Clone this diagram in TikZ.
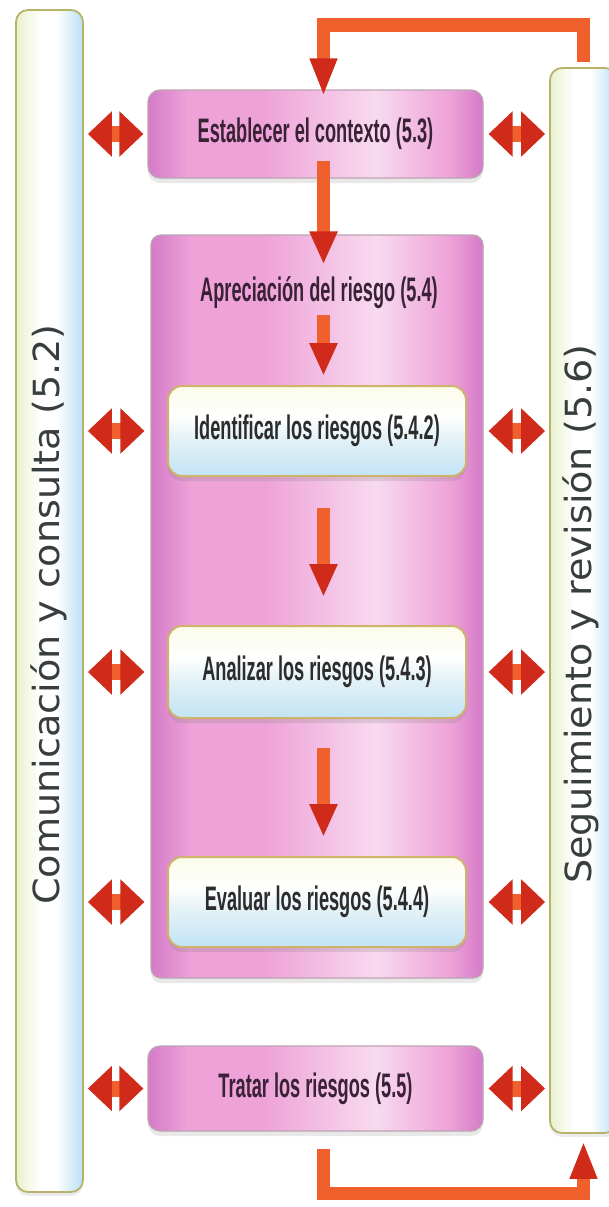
\documentclass[tikz,border=0pt]{standalone}
\usepackage{fontspec}
\setmainfont{Liberation Sans}
\newfontfamily\sidefont{DejaVu Sans}
\usepackage{graphicx}
\usetikzlibrary{arrows.meta,shadows,calc}

% palette
\definecolor{pkEdge}{HTML}{D47BC8}
\definecolor{pkMid}{HTML}{EEA2D8}
\definecolor{pkLight}{HTML}{F8DAEF}
\definecolor{pbTop}{HTML}{FBFCEA}
\definecolor{pbMid}{HTML}{E2F1F6}
\definecolor{pbBot}{HTML}{C2E3F5}
\definecolor{colL}{HTML}{E9F1CD}
\definecolor{colR}{HTML}{B9E0F5}
\definecolor{colLine}{HTML}{B8B26A}
\definecolor{pbLine}{HTML}{CDB46A}
\definecolor{pkLine}{HTML}{BCA4B2}
\definecolor{arrOr}{HTML}{F0602C}
\definecolor{arrRd}{HTML}{CF2A1A}
\definecolor{txtPk}{HTML}{3A2236}
\definecolor{txtPb}{HTML}{2C2C2C}
\definecolor{txtSide}{HTML}{383E3E}

\pgfdeclarehorizontalshading{pinkfill}{100bp}{color(0bp)=(pkEdge); color(25bp)=(pkEdge); color(31bp)=(pkMid); color(42bp)=(pkMid); color(59bp)=(pkLight); color(70bp)=(pkMid); color(75bp)=(pkEdge); color(100bp)=(pkEdge)}
\pgfdeclareverticalshading{palefill}{100bp}{color(0bp)=(pbBot); color(25bp)=(pbBot); color(45bp)=(pbMid); color(58bp)=(white); color(75bp)=(pbTop); color(100bp)=(pbTop)}
\pgfdeclarehorizontalshading{colfill}{100bp}{color(0bp)=(colL); color(25bp)=(colL); color(43bp)=(white); color(55bp)=(white); color(75bp)=(colR); color(100bp)=(colR)}

\newcommand\boxfont{\fontsize{34}{38}\selectfont\bfseries}
\newcommand\boxlabel[1]{\scalebox{0.535}[1]{#1}}
\newcommand\sidelabel[1]{\scalebox{1.06}[1]{#1}}

\tikzset{
  column/.style={draw=colLine, line width=1.8pt, rounded corners=12pt,
    shading=colfill, inner sep=0pt,
    drop shadow={shadow xshift=0pt, shadow yshift=-4pt, opacity=0.15}},
  sidetxt/.style={rotate=90, font=\sidefont\fontsize{36}{40}\selectfont,
    text=txtSide, inner sep=0pt},
  pinkbox/.style={draw=pkLine, line width=1.2pt, rounded corners=12pt,
    shading=pinkfill, text=txtPk, font=\boxfont, inner sep=0pt,
    drop shadow={shadow xshift=0pt, shadow yshift=-5pt, opacity=0.18}},
  palebox/.style={draw=pbLine, line width=2pt, rounded corners=14pt,
    shading=palefill, text=txtPb, font=\boxfont, inner sep=0pt,
    minimum width=298pt,
    drop shadow={shadow xshift=0pt, shadow yshift=-5pt, opacity=0.22}},
  dbl/.style={line width=16pt, draw=arrOr,
    {Triangle[length=24pt,width=44pt,color=arrRd]}-{Triangle[length=24pt,width=44pt,color=arrRd]}},
  dn/.style={line width=13pt, draw=arrOr,
    -{Triangle[length=33pt,width=26pt,color=arrRd]}},
  fb/.style={line width=13.5pt, draw=arrOr,
    -{Triangle[length=38pt,width=25pt,color=arrRd]}}
}

\begin{document}
\begin{tikzpicture}[x=1pt,y=-1pt]
  \fill[white] (0,0) rectangle (608,1207);
  \useasboundingbox (0,0) rectangle (608,1207);

  % side columns
  \node[column, minimum width=67pt, minimum height=1182pt] (com) at (49.5,601) {};
  \node[column, minimum width=67pt, minimum height=1065pt] (seg) at (583.5,600.5) {};
  \node[sidetxt] (comlab) at (48.5,614.5) {\sidelabel{Comunicación y consulta (5.2)}};
  \node[sidetxt] (seglab) at (581,614) {\sidelabel{Seguimiento y revisión (5.6)}};

  % process boxes
  \node[pinkbox, minimum width=335pt, minimum height=88pt] (ctx) at (315.5,134)
    {\boxlabel{Establecer el contexto (5.3)}};
  \node[pinkbox, rounded corners=10pt, minimum width=332pt, minimum height=743pt] (big) at (317,606.5) {};
  \node[font=\boxfont, text=txtPk, inner sep=0pt] (apr) at (319,293)
    {\boxlabel{Apreciación del riesgo (5.4)}};
  \node[palebox, minimum height=90pt] (ide) at (317,431)
    {\boxlabel{Identificar los riesgos (5.4.2)}};
  \node[palebox, minimum height=92pt] (ana) at (317,672)
    {\boxlabel{Analizar los riesgos (5.4.3)}};
  \node[palebox, minimum height=90pt] (eva) at (317,902)
    {\boxlabel{Evaluar los riesgos (5.4.4)}};
  \node[pinkbox, minimum width=335pt, minimum height=85pt] (tra) at (315.5,1088.5)
    {\boxlabel{Tratar los riesgos (5.5)}};

  \coordinate (axis) at (323.5,0);

  % main flow
  \draw[dn, shorten <=-18pt, shorten >=-30pt] (axis |- ctx.south) -- (axis |- big.north);
  \draw[dn, shorten <=6pt, shorten >=9pt] (axis |- apr.south) -- (axis |- ide.north);
  \draw[dn, shorten <=31pt, shorten >=28pt] (axis |- ide.south) -- (axis |- ana.north);
  \draw[dn, shorten <=29pt, shorten >=19pt] (axis |- ana.south) -- (axis |- eva.north);

  % feedback loops
  \draw[fb, shorten <=5pt, shorten >=-7pt] (seg.north) -- ++(0,-42) -| (axis |- ctx.north);
  \draw[fb, shorten <=17pt, shorten >=7pt] (axis |- tra.south) -- ++(0,62) -| (seg.south);

  % communication links
  \draw[dbl, shorten <=4pt, shorten >=4pt] (com.east |- ctx.west) -- (ctx.west);
  \draw[dbl, shorten <=4pt, shorten >=6pt] (com.east |- ide.west) -- (big.west |- ide.west);
  \draw[dbl, shorten <=4pt, shorten >=6pt] (com.east |- ana.west) -- (big.west |- ana.west);
  \draw[dbl, shorten <=4pt, shorten >=6pt] (com.east |- eva.west) -- (big.west |- eva.west);
  \draw[dbl, shorten <=4pt, shorten >=4pt] (com.east |- tra.west) -- (tra.west);

  % monitoring links
  \draw[dbl, shorten <=5pt, shorten >=4pt] (ctx.east) -- (seg.west |- ctx.east);
  \draw[dbl, shorten <=5pt, shorten >=4pt] (big.east |- ide.east) -- (seg.west |- ide.east);
  \draw[dbl, shorten <=5pt, shorten >=4pt] (big.east |- ana.east) -- (seg.west |- ana.east);
  \draw[dbl, shorten <=5pt, shorten >=4pt] (big.east |- eva.east) -- (seg.west |- eva.east);
  \draw[dbl, shorten <=5pt, shorten >=4pt] (tra.east) -- (seg.west |- tra.east);
\end{tikzpicture}
\end{document}
